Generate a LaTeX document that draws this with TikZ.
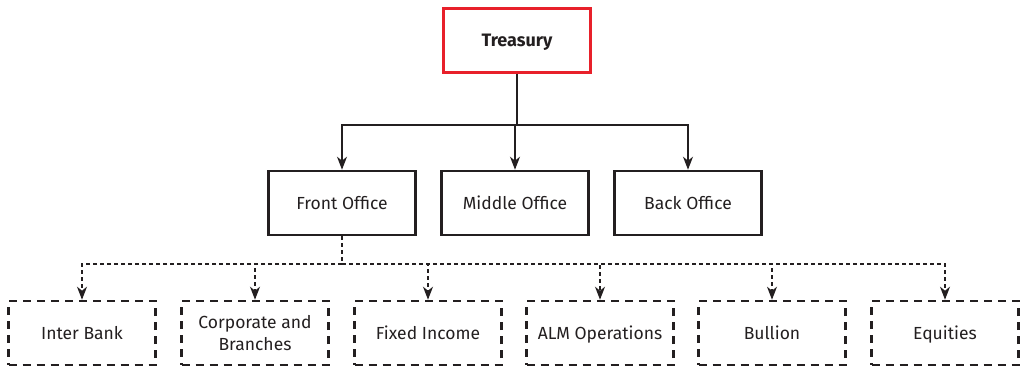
\documentclass[tikz,border=0pt]{standalone}
\usepackage{fontspec}
\setmainfont{Fira Sans}
\usetikzlibrary{arrows.meta}
\definecolor{treasuryred}{HTML}{E8202A}
\definecolor{inkgrey}{HTML}{231F20}
\tikzset{
  unitbox/.style={draw=inkgrey, line width=2.6pt, minimum width=147pt, minimum height=64pt,
    align=center, text depth=0pt, font=\fontsize{17.5}{22.5}\selectfont, text=inkgrey},
  headbox/.style={unitbox, draw=treasuryred, font=\fontsize{18}{22}\selectfont\bfseries},
  deskbox/.style={unitbox, dash pattern=on 8pt off 6pt},
  link/.style={draw=inkgrey, line width=1.2pt, -{Stealth[length=13pt,width=10pt,inset=4pt]}},
  dlink/.style={link, dash pattern=on 4pt off 3pt}
}
\begin{document}
\begin{tikzpicture}[x=1pt,y=-1pt]
\useasboundingbox (0,0) rectangle (1028,367);
% top
\node[headbox] (treasury) at (517,40.5) {Treasury};
% offices
\node[unitbox] (front) at (342,203) {Front Office};
\node[unitbox] (middle) at (515,203) {Middle Office};
\node[unitbox] (back) at (688,203) {Back Office};
% desks
\node[deskbox] (interbank) at (82,333) {Inter Bank};
\node[deskbox] (corporate) at (255,333) {Corporate and\\Branches};
\node[deskbox] (fixedinc) at (428,333) {Fixed Income};
\node[deskbox] (alm) at (600,333) {ALM Operations};
\node[deskbox] (bullion) at (772,333) {Bullion};
\node[deskbox] (equities) at (945,333) {Equities};
% solid links
\coordinate (split) at (517,125);
\draw[draw=inkgrey, line width=1.2pt] (treasury.south) -- (split);
\foreach \n in {front,middle,back}
  \draw[link] (split) -| (\n.north);
% dashed links
\coordinate (dsplit) at (342,264);
\draw[draw=inkgrey, line width=1.2pt, dash pattern=on 4pt off 3pt] (front.south) -- (dsplit);
\foreach \n in {interbank,corporate,fixedinc,alm,bullion,equities}
  \draw[dlink] (dsplit) -| (\n.north);
\end{tikzpicture}
\end{document}
